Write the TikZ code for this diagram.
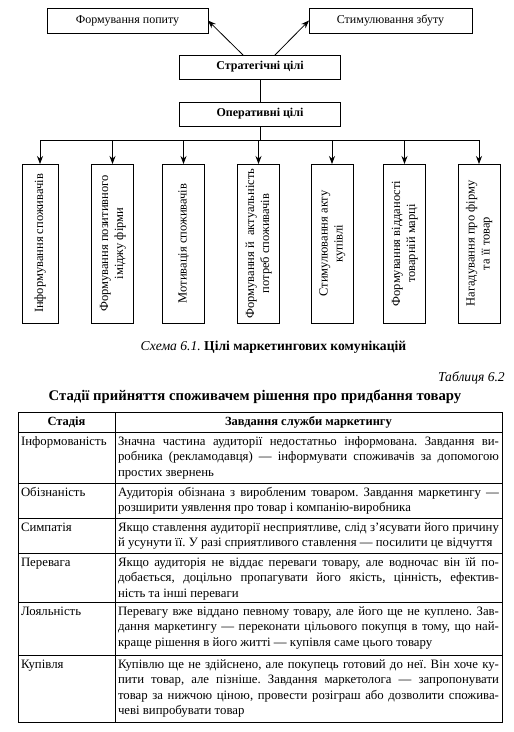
\documentclass[tikz,border=0pt]{standalone}
\usepackage{fontspec}
\setmainfont{Liberation Serif}
\usetikzlibrary{arrows.meta}
\frenchspacing
\newlength\cwid
\setlength\cwid{381pt}
\newcommand\jl[1]{\hbox to\cwid{\strut #1}}
\newcommand\lastln[1]{\hbox{\strut #1}}
\newcommand\vtxt[1]{\rotatebox{90}{\begin{tabular}{@{}c@{}}#1\end{tabular}}}
\begin{document}
\begin{tikzpicture}[x=1pt,y=-1pt,
  ln/.style={line width=0.8pt},
  box/.style={draw, line width=0.8pt, inner sep=0pt, outer sep=0pt, font=\fontsize{12}{15}\selectfont},
  bbox/.style={box, font=\fontsize{12}{15}\selectfont\bfseries},
  vbox/.style={box, minimum width=42pt, minimum height=159pt, font=\fontsize{12.5}{15}\selectfont},
  arr/.style={-{Stealth[length=8pt,width=6pt]}, line width=0.8pt},
  cell/.style={anchor=north west, inner sep=0pt, outer sep=0pt, font=\fontsize{12.8}{15.2}\selectfont\frenchspacing},
  txt/.style={cell},
  head/.style={inner sep=0pt, font=\fontsize{12.5}{15}\selectfont\bfseries}
]
\fill[white] (0,0) rectangle (514,732);
\useasboundingbox (0,0) rectangle (514,732);

% top part of the scheme
\node[box, minimum width=161pt, minimum height=25pt] (fp) at (127.5,20.5) {Формування попиту};
\node[box, minimum width=163pt, minimum height=25pt] (sz) at (390.5,20.5) {Стимулювання збуту};
\node[bbox, minimum width=161pt, minimum height=24pt] (st) at (260,67) {Стратегічні цілі};
\node[bbox, minimum width=161pt, minimum height=24pt] (op) at (260,114) {Оперативні цілі};
\draw[arr] ([xshift=-17pt]st.north) -- (fp.east);
\draw[arr] ([xshift=15pt]st.north) -- (sz.west);
\draw[ln] (st.south) -- (op.north);
\coordinate (bus) at (260,140);
\draw[ln] (op.south) -- (bus);

% vertical boxes
\node[vbox, minimum width=36pt] (b1) at (40,243.5) {\vtxt{Інформування споживачів}};
\node[vbox] (b2) at (112.5,243.5) {\vtxt{Формування позитивного\\іміджу фірми}};
\node[vbox] (b3) at (183.5,243.5) {\vtxt{Мотивація споживачів}};
\node[vbox] (b4) at (258.5,243.5) {\vtxt{Формування й\ \ актуальність\\потреб споживачів}};
\node[vbox] (b5) at (332,243.5) {\vtxt{Стимулювання акту\\купівлі}};
\node[vbox] (b6) at (404.5,243.5) {\vtxt{Формування відданості\\товарній марці}};
\node[vbox] (b7) at (479,243.5) {\vtxt{Нагадування про фірму\\та її товар}};
\draw[ln] (b1.north |- bus) -- (b7.north |- bus);
\foreach \b in {b1,b2,b3,b4,b5,b6,b7}
  \draw[arr] (\b.north |- bus) -- (\b.north);

% captions
\node[inner sep=0pt, font=\fontsize{13.6}{15}\selectfont] (cap) at (273.5,347)
  {\textit{Схема 6.1.} \textbf{Цілі маркетингових комунікацій}};
\node[inner sep=0pt, anchor=east, font=\fontsize{13.6}{15}\selectfont] (tn) at (505,378) {\textit{Таблиця 6.2}};
\node[inner sep=0pt, font=\fontsize{14.7}{16}\selectfont\bfseries] (tt) at (255,397)
  {Стадії прийняття споживачем рішення про придбання товару};

% table
\draw[ln] (18,412) rectangle (502,722);
\draw[ln] (115,412) -- (115,722);
\foreach \y in {432,483,518,553,602,655} \draw[ln] (18,\y) -- (502,\y);

\node[head] (h1) at (66.5,422) {Стадія};
\node[head] (h2) at (308.5,422) {Завдання служби маркетингу};

\node[cell] (s1) at (21,435) {\vbox{\lastln{Інформованість}}};
\node[txt] (t1) at (118,435) {\vbox{\jl{Значна частина аудиторії недостатньо інформована. Завдання ви-}\jl{робника (рекламодавця) — інформувати споживачів за допомогою}\lastln{простих звернень}}};

\node[cell] (s2) at (21,486) {\vbox{\lastln{Обізнаність}}};
\node[txt] (t2) at (118,486) {\vbox{\jl{Аудиторія обізнана з виробленим товаром. Завдання маркетингу —}\lastln{розширити уявлення про товар і компанію-виробника}}};

\node[cell] (s3) at (21,521) {\vbox{\lastln{Симпатія}}};
\node[txt] (t3) at (118,521) {\vbox{\jl{Якщо ставлення аудиторії несприятливе, слід з’ясувати його причину}\lastln{й усунути її. У разі сприятливого ставлення — посилити це відчуття}}};

\node[cell] (s4) at (21,556) {\vbox{\lastln{Перевага}}};
\node[txt] (t4) at (118,556) {\vbox{\jl{Якщо аудиторія не віддає переваги товару, але водночас він їй по-}\jl{добається, доцільно пропагувати його якість, цінність, ефектив-}\lastln{ність та інші переваги}}};

\node[cell] (s5) at (21,605) {\vbox{\lastln{Лояльність}}};
\node[txt] (t5) at (118,605) {\vbox{\jl{Перевагу вже віддано певному товару, але його ще не куплено. Зав-}\jl{дання маркетингу — переконати цільового покупця в тому, що най-}\lastln{краще рішення в його житті — купівля саме цього товару}}};

\node[cell] (s6) at (21,658) {\vbox{\lastln{Купівля}}};
\node[txt] (t6) at (118,658) {\vbox{\jl{Купівлю ще не здійснено, але покупець готовий до неї. Він хоче ку-}\jl{пити товар, але пізніше. Завдання маркетолога — запропонувати}\jl{товар за нижчою ціною, провести розіграш або дозволити спожива-}\lastln{чеві випробувати товар}}};
\end{tikzpicture}
\end{document}
